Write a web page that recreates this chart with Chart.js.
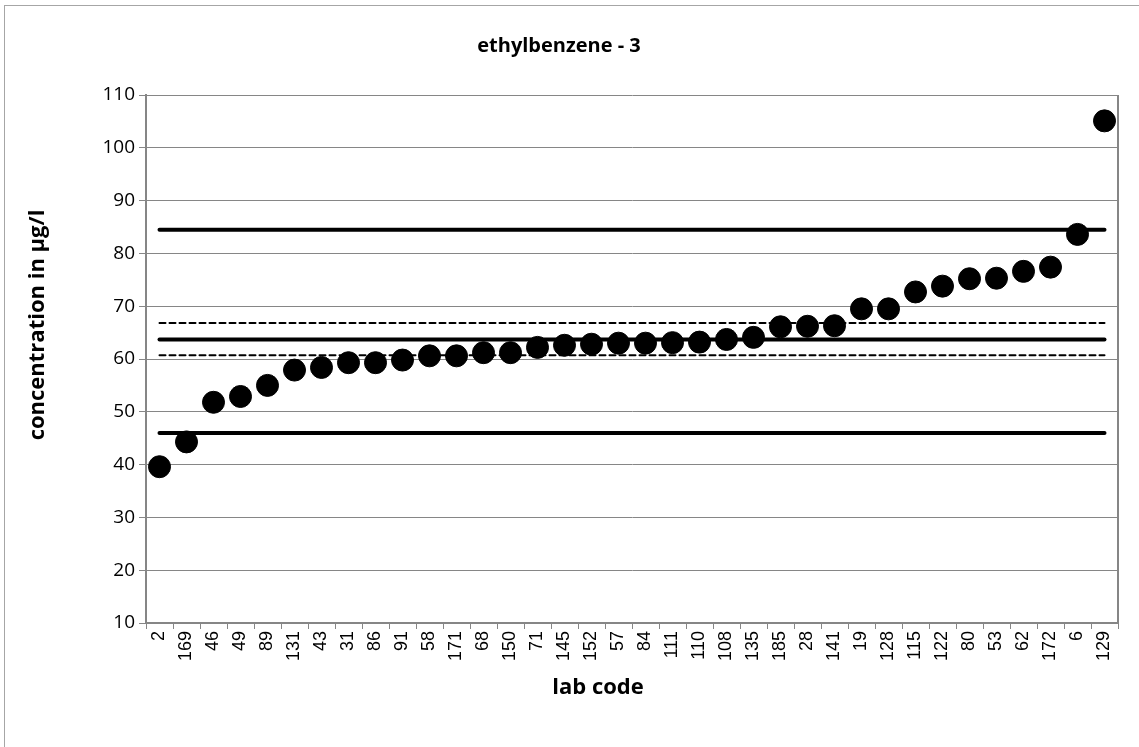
<!DOCTYPE html>
<html>
<head>
<meta charset="utf-8">
<script src="https://cdn.jsdelivr.net/npm/chart.js@4"></script>
<style>
  html, body { margin: 0; padding: 0; background: #fff; }
  #wrap { width: 1139px; height: 747px; position: relative; }
</style>
</head>
<body>
<div id="wrap"><canvas id="chart"></canvas></div>
<script>
const labCodes = ["2","169","46","49","89","131","43","31","86","91","58","171","68","150","71","145","152","57","84","111","110","108","135","185","28","141","19","128","115","122","80","53","62","172","6","129"];
const concentrations = [39.6,44.3,51.8,52.9,55.0,57.9,58.4,59.3,59.3,59.8,60.6,60.6,61.2,61.2,62.2,62.6,62.8,63.0,63.0,63.1,63.2,63.7,64.1,66.1,66.2,66.3,69.5,69.5,72.7,73.8,75.2,75.3,76.6,77.4,83.6,105.1];

// reference levels
const assignedValue = 63.7;
const upperLimit = 84.5;
const lowerLimit = 46.0;
const upperUncert = 66.8;
const lowerUncert = 60.7;

const yTicks = [10,20,30,40,50,60,70,80,90,100,110];
const xTitle = "lab code";
const yTitle = "concentration in µg/l";

const flat = v => labCodes.map(() => v);
const gray = "#868686";
const boldFont = "bold 22px 'Open Sans'";

// outer frame, right edge of plot, and the two axis titles (Excel places them off-centre)
const frame = {
  id: "frame",
  beforeDraw(chart) {
    const c = chart.ctx;
    c.save();
    c.strokeStyle = "#a6a6a6";
    c.lineWidth = 1;
    c.strokeRect(4.5, 5.5, 1200, 800);
    c.restore();
  },
  beforeDatasetsDraw(chart) {
    const a = chart.chartArea, c = chart.ctx;
    c.save();
    c.strokeStyle = gray;
    c.lineWidth = 2;
    c.beginPath();
    c.moveTo(a.right, a.top);
    c.lineTo(a.right, a.bottom);
    c.stroke();
    c.restore();
  },
  afterDraw(chart) {
    const c = chart.ctx;
    c.save();
    c.fillStyle = "#000";
    c.font = boldFont;
    c.textAlign = "center";
    c.textBaseline = "middle";
    c.fillText(xTitle, 598, 688);
    c.translate(38, 325);
    c.rotate(-Math.PI / 2);
    c.fillText(yTitle, 0, 0);
    c.restore();
  }
};

function refLine(v, dashed) {
  return {
    type: "line",
    data: flat(v),
    borderColor: "#000",
    borderWidth: dashed ? 2 : 4,
    borderDash: dashed ? [6, 4] : [],
    borderCapStyle: "round",
    pointRadius: 0,
    fill: false,
    order: 2
  };
}

new Chart(document.getElementById("chart"), {
  type: "line",
  data: {
    labels: labCodes,
    datasets: [
      {
        data: concentrations,
        showLine: false,
        pointRadius: 11,
        pointBackgroundColor: "#000",
        pointBorderColor: "#000",
        order: 1
      },
      refLine(upperLimit, false),
      refLine(assignedValue, false),
      refLine(lowerLimit, false),
      refLine(upperUncert, true),
      refLine(lowerUncert, true)
    ]
  },
  options: {
    responsive: true,
    maintainAspectRatio: false,
    animation: false,
    layout: { padding: { left: 0, right: 21, top: 0, bottom: 0 } },
    plugins: {
      legend: { display: false },
      tooltip: { enabled: false },
      title: {
        display: true,
        text: "ethylbenzene - 3",
        color: "#000",
        font: { family: "'Open Sans'", size: 20, weight: "bold" },
        padding: { top: 34, bottom: 37 }
      }
    },
    scales: {
      x: {
        type: "category",
        offset: true,
        grid: { offset: true, drawOnChartArea: false, drawTicks: true, tickLength: 6, color: gray },
        border: { color: gray, width: 2 },
        ticks: {
          color: "#000",
          font: { family: "'Liberation Sans'", size: 18 },
          maxRotation: 90, minRotation: 90,
          autoSkip: false,
          padding: 2
        },
        afterFit(scale) { scale.height = 124; }
      },
      y: {
        min: 10,
        max: 110,
        afterBuildTicks(scale) { scale.ticks = yTicks.map(v => ({ value: v })); },
        grid: { color: gray, lineWidth: 1, drawTicks: true, tickLength: 7 },
        border: { color: gray, width: 2 },
        ticks: {
          color: "#000",
          font: { family: "'Open Sans'", size: 19 },
          padding: 4
        },
        afterFit(scale) { scale.width = 146; }
      }
    }
  },
  plugins: [frame]
});
</script>
</body>
</html>
